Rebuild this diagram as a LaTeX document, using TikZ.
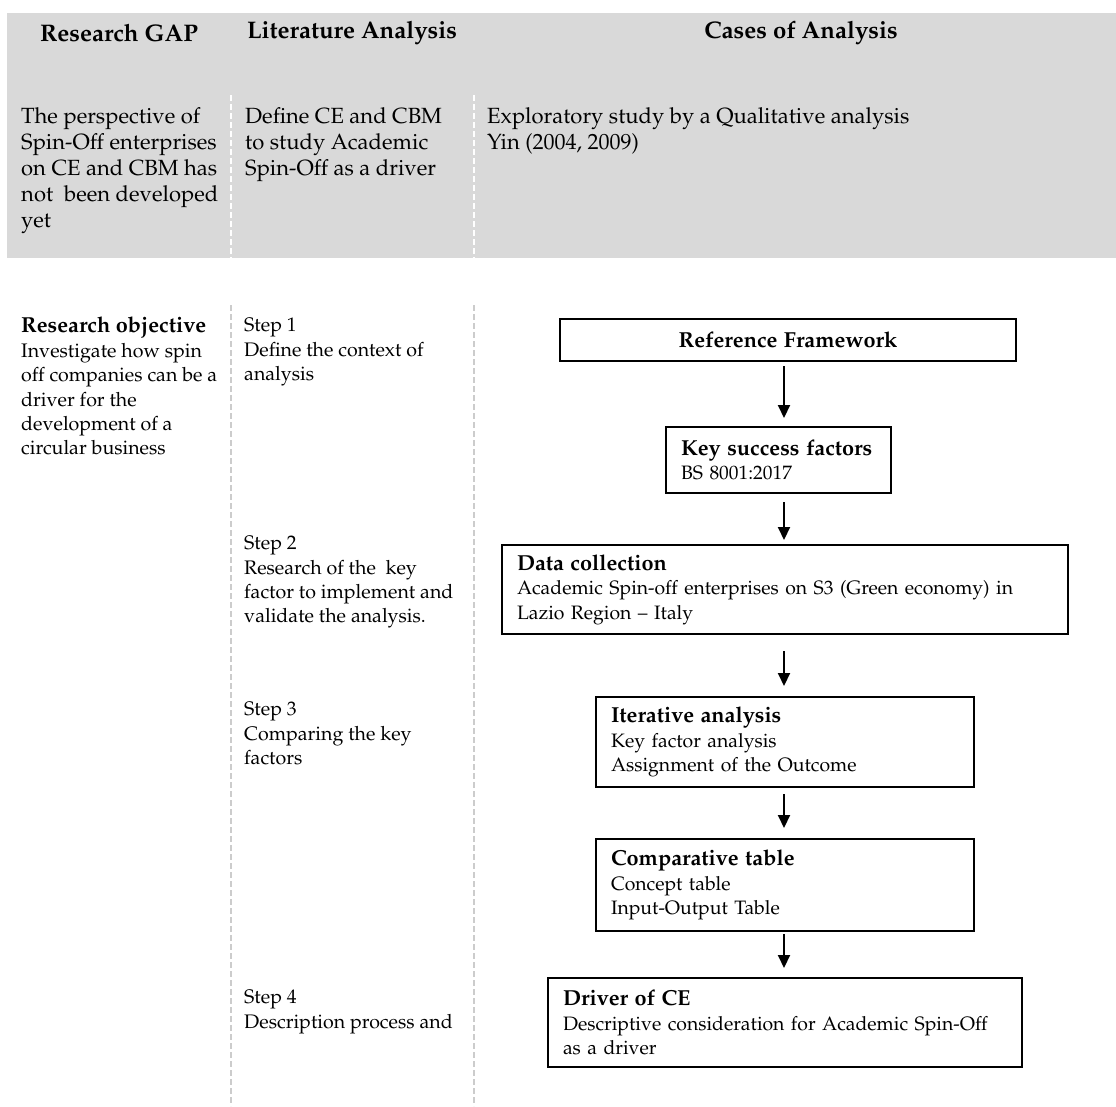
\documentclass[tikz,border=0pt]{standalone}
\usepackage[T1]{fontenc}
\usepackage{mathpazo}
\usetikzlibrary{arrows.meta,positioning}
\definecolor{bandgray}{HTML}{D9D9D9}
\definecolor{rulegray}{HTML}{CCCCCC}
\newcommand{\boxhead}[1]{{\fontsize{21.7}{24.5}\selectfont\bfseries #1}}

\begin{document}
\begin{tikzpicture}[x=1pt,y=-1pt,
    txt/.style={anchor=north west,inner sep=0pt,align=left,font=\fontsize{19.6}{24.4}\selectfont},
    toptxt/.style={txt,font=\fontsize{22}{26}\selectfont},
    head/.style={inner sep=0pt,font=\fontsize{24}{26}\selectfont\bfseries},
    box/.style={draw,line width=2pt,anchor=north west,inner xsep=15pt,inner ysep=0pt,
      align=left,font=\fontsize{19.4}{24.5}\selectfont},
    sep/.style={line width=1.4pt,dash pattern=on 6pt off 3pt},
    flow/.style={line width=2pt,-{Triangle[length=13pt,width=12pt]}}]

  \useasboundingbox (0,0) rectangle (1116,1106);

  % top band
  \fill[bandgray] (7,13) rectangle (1116,258);
  \draw[sep,white] (231,95) -- (231,258);
  \draw[sep,white] (474,95) -- (474,258);
  \draw[sep,rulegray] (231,305) -- (231,1106);
  \draw[sep,rulegray] (474,305) -- (474,1106);

  \node[head] (gaphead) at (119,33) {Research GAP};
  \node[head] (lithead) at (352,33) {Literature Analysis};
  \node[head] (casehead) at (801,33) {Cases of Analysis};

  \node[toptxt] (gap) at (21,107) {The perspective of\\Spin-Off enterprises\\on CE and CBM has\\not\ \ been developed\\yet};
  \node[toptxt] (lit) at (245,107) {Define CE and CBM\\to study Academic\\Spin-Off as a driver};
  \node[toptxt] (cases) at (487,107) {Exploratory study by a Qualitative analysis\\Yin (2004, 2009)};

  % steps
  \node[txt] (obj) at (21,317) {\boxhead{Research objective}\\Investigate how spin\\off companies can be a\\driver for the\\development of a\\circular business};
  \node[txt] (step1) at (244,318) {Step 1\\Define the context of\\analysis};
  \node[txt] (step2) at (244,536) {Step 2\\Research of the\ \ key\\factor to implement and\\validate the analysis.};
  \node[txt] (step3) at (244,702) {Step 3\\Comparing the key\\factors};
  \node[txt] (step4) at (244,990) {Step 4\\Description process and};

  % flow boxes
  \node[box,align=center,text width=426pt,minimum height=42pt] (ref) at (559,318) {\boxhead{Reference Framework}};
  \node[box,text width=195pt,minimum height=66pt] (ksf) at (665,426) {\boxhead{Key success factors}\\BS 8001:2017};
  \node[box,text width=536pt,minimum height=89pt] (data) at (501,544) {\boxhead{Data collection}\\Academic Spin-off enterprises on S3 (Green economy) in\\Lazio Region -- Italy};
  \node[box,text width=348pt,minimum height=90pt] (iter) at (595,696) {\boxhead{Iterative analysis}\\Key factor analysis\\Assignment of the Outcome};
  \node[box,text width=348pt,minimum height=92pt] (comp) at (595,838) {\boxhead{Comparative table}\\Concept table\\Input-Output Table};
  \node[box,text width=444pt,minimum height=89pt] (drv) at (547,977) {\boxhead{Driver of CE}\\Descriptive consideration for Academic Spin-Off\\as a driver};

  \coordinate (axis) at (784,0);
  \draw[flow,shorten <=4pt,shorten >=8pt] (ref.south -| axis) -- (ksf.north -| axis);
  \draw[flow,shorten <=8pt,shorten >=4pt] (ksf.south -| axis) -- (data.north -| axis);
  \draw[flow,shorten <=16pt,shorten >=10pt] (data.south -| axis) -- (iter.north -| axis);
  \draw[flow,shorten <=6pt,shorten >=10pt] (iter.south -| axis) -- (comp.north -| axis);
  \draw[flow,shorten <=2pt,shorten >=9pt] (comp.south -| axis) -- (drv.north -| axis);
\end{tikzpicture}
\end{document}
